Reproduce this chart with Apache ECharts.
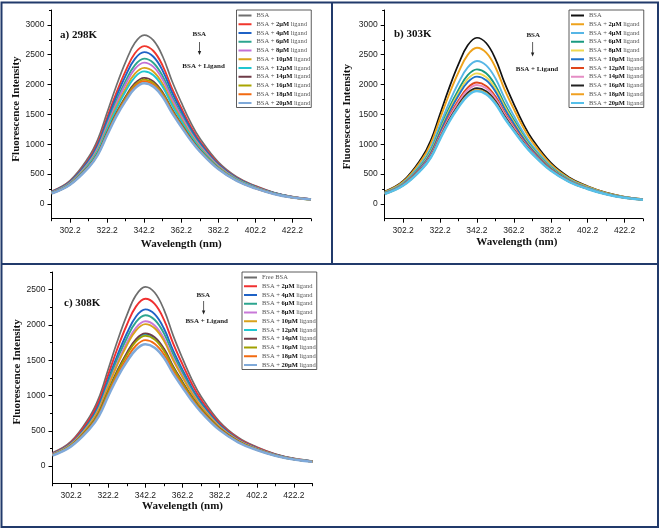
<!DOCTYPE html>
<html>
<head>
<meta charset="utf-8">
<script src="https://cdn.jsdelivr.net/npm/echarts@6/dist/echarts.min.js"></script>
<style>
html,body{margin:0;padding:0;background:#fff;}
#chart{width:661px;height:530px;}
</style>
</head>
<body>
<div id="chart"></div>
<script>
// ---------------- DATA ----------------
const wavelength = [292.2, 302.2, 312.2, 317.2, 322.2, 327.2, 332.2, 337.2, 342.2, 347.2, 352.2, 357.2, 362.2, 367.2, 372.2, 382.2, 392.2, 402.2, 412.2, 422.2, 432.2];

const xTickLabels = [302.2, 322.2, 342.2, 362.2, 382.2, 402.2, 422.2];
const xMinorTicks = [292.2, 312.2, 332.2, 352.2, 372.2, 392.2, 412.2, 432.2];
const yTickLabelsAB = [0, 500, 1000, 1500, 2000, 2500, 3000];
const yMinorTicksAB = [250, 750, 1250, 1750, 2250, 2750, 3250];
const yTickLabelsC = [0, 500, 1000, 1500, 2000, 2500];
const yMinorTicksC = [250, 750, 1250, 1750, 2250, 2750];

const names298 = ['BSA', 'BSA + 2μM ligand', 'BSA + 4μM ligand', 'BSA + 6μM ligand', 'BSA + 8μM ligand', 'BSA + 10μM ligand', 'BSA + 12μM ligand', 'BSA + 14μM ligand', 'BSA + 16μM ligand', 'BSA + 18μM ligand', 'BSA + 20μM ligand'];
const names303 = ['BSA', 'BSA + 2μM ligand', 'BSA + 4μM ligand', 'BSA + 6μM ligand', 'BSA + 8μM ligand', 'BSA + 10μM ligand', 'BSA + 12μM ligand', 'BSA + 14μM ligand', 'BSA + 16μM ligand', 'BSA + 18μM ligand', 'BSA + 20μM ligand'];
const names308 = ['Free BSA', 'BSA + 2μM ligand', 'BSA + 4μM ligand', 'BSA + 6μM ligand', 'BSA + 8μM ligand', 'BSA + 10μM ligand', 'BSA + 12μM ligand', 'BSA + 14μM ligand', 'BSA + 16μM ligand', 'BSA + 18μM ligand', 'BSA + 20μM ligand'];

const intensity298 = [
  [210,390,780,1080,1530,1980,2380,2700,2830,2740,2470,2060,1700,1370,1100,700,450,300,190,120,80],
  [201,374,741,1021,1443,1861,2230,2525,2645,2562,2314,1936,1607,1302,1049,673,435,290,184,117,78],
  [197,365,719,988,1395,1798,2149,2430,2543,2466,2230,1870,1556,1263,1022,658,426,285,181,114,76],
  [192,356,697,954,1345,1729,2061,2327,2435,2362,2139,1798,1501,1223,992,643,417,280,178,112,75],
  [188,350,682,932,1313,1685,2006,2263,2368,2296,2082,1753,1467,1197,975,633,412,276,176,111,74],
  [184,342,663,904,1271,1630,1935,2182,2280,2214,2008,1695,1423,1165,950,620,405,272,173,110,73],
  [181,337,651,885,1244,1592,1887,2125,2220,2156,1959,1656,1392,1143,934,611,400,268,172,108,72],
  [176,328,628,850,1192,1523,1799,2022,2112,2052,1867,1584,1338,1103,904,595,391,263,168,106,71],
  [175,325,621,840,1178,1503,1776,1993,2082,2022,1843,1564,1323,1091,897,591,388,261,167,106,70],
  [174,323,615,832,1166,1487,1754,1968,2055,1997,1820,1547,1309,1081,889,587,386,260,167,105,70],
  [172,320,608,821,1149,1465,1726,1936,2020,1965,1791,1524,1292,1069,880,582,383,258,165,105,70]
];
const intensity303 = [
  [207,384,768,1063,1506,1948,2342,2657,2785,2696,2431,2027,1673,1348,1082,689,443,295,187,118,79],
  [199,369,733,1009,1428,1841,2206,2498,2617,2534,2290,1916,1588,1286,1037,664,429,286,182,115,77],
  [189,350,685,938,1322,1701,2028,2288,2395,2321,2105,1770,1476,1202,976,632,411,275,175,111,74],
  [182,338,655,893,1256,1611,1913,2157,2255,2189,1986,1676,1405,1150,938,612,399,268,171,108,72],
  [179,332,641,872,1224,1568,1860,2094,2188,2124,1930,1632,1372,1126,920,602,394,264,169,107,71],
  [177,328,630,854,1199,1533,1815,2041,2133,2071,1884,1595,1343,1105,905,594,389,261,167,106,71],
  [172,319,608,822,1152,1469,1735,1948,2033,1976,1801,1528,1293,1068,877,579,381,256,164,104,69],
  [170,315,600,809,1133,1443,1703,1908,1992,1936,1767,1502,1273,1053,867,573,377,254,163,103,69],
  [167,310,588,792,1107,1408,1658,1857,1938,1885,1721,1466,1246,1033,852,566,373,251,161,102,68],
  [166,308,582,782,1095,1391,1635,1831,1910,1858,1697,1447,1231,1022,844,562,371,250,161,101,68],
  [165,306,578,776,1084,1379,1618,1812,1890,1839,1680,1435,1221,1015,839,558,369,249,160,101,68]
];
const intensity308 = [
  [188,350,700,969,1373,1777,2136,2423,2540,2459,2217,1849,1526,1230,987,628,404,269,171,108,72],
  [180,335,664,915,1293,1669,1999,2263,2370,2297,2075,1736,1441,1166,941,604,390,260,166,105,70],
  [173,322,632,866,1222,1573,1878,2120,2220,2152,1949,1636,1364,1111,900,582,377,252,161,102,68],
  [169,315,615,840,1184,1521,1811,2043,2137,2073,1880,1583,1323,1080,877,569,370,248,159,100,67],
  [165,308,596,813,1144,1466,1743,1963,2052,1992,1809,1525,1280,1048,855,557,364,244,156,99,66],
  [163,304,588,799,1124,1441,1709,1924,2012,1952,1774,1500,1259,1033,843,551,360,242,155,98,65],
  [156,291,556,752,1054,1345,1589,1783,1862,1810,1649,1400,1184,977,802,529,348,234,150,95,63],
  [157,293,560,758,1063,1358,1604,1800,1880,1827,1665,1413,1193,984,807,532,349,235,151,95,64],
  [156,290,552,746,1046,1335,1574,1766,1845,1793,1634,1389,1175,970,797,527,347,233,150,95,63],
  [153,285,540,727,1017,1295,1525,1708,1784,1734,1583,1348,1145,948,782,517,341,230,148,94,62],
  [150,279,527,707,990,1258,1478,1652,1725,1677,1534,1309,1114,926,765,509,337,227,146,92,62]
];

// ---------------- STYLE ----------------
const colors298 = ['#6f6f6f','#f0362c','#1f62c6','#2ca58f','#c270d6','#d9a21c','#20c6d0','#6e3b47','#a9a500','#f26a10','#7fa9d9'];
const colors303 = ['#111111','#eea21b','#56b6e6','#1a9a80','#efd74e','#1e72c8','#e0461c','#e58dc4','#222222','#f0a020','#56c0ea'];
const colors308 = ['#6d6d6d','#f03030','#1f62c6','#2ca58f','#c878d8','#d9a21c','#20c6d0','#6e3b47','#a0a000','#f26a10','#7fa9d9'];

const NAVY = '#213a6b';
const panels = [
  {key:'a', names:names298, data:intensity298, colors:colors298, grid:{left:51.5, top:10, width:259.5, height:208.7}, ymin:-250, ymax:3250, yTicks:yTickLabelsAB, yMinor:yMinorTicksAB,
   yGap:29, yPad:[0,0,0,10.6], xGap:19.8, xPad:[0,0,0,0], legend:{left:236.5, top:10}},
  {key:'b', names:names303, data:intensity303, colors:colors303, grid:{left:384.7, top:10, width:258.3, height:208.7}, ymin:-250, ymax:3250, yTicks:yTickLabelsAB, yMinor:yMinorTicksAB,
   yGap:32, yPad:[0,4.6,0,0], xGap:17.5, xPad:[0,0,0,6], legend:{left:569, top:10}},
  {key:'c', names:names308, data:intensity308, colors:colors308, grid:{left:52.5, top:272, width:260, height:211.7}, ymin:-250, ymax:2750, yTicks:yTickLabelsC, yMinor:yMinorTicksC,
   yGap:27.7, yPad:[0,0,0,12], xGap:15.1, xPad:[0,0,0,0], legend:{left:242, top:272}}
];

const labelFont = {fontFamily:'Liberation Sans', fontSize:8.5, color:'#222'};
const nameFont = {fontFamily:'Liberation Serif', fontWeight:'bold', fontSize:11, color:'#111'};

function legendFormatter(name){
  const n = name.split('@')[0];
  const m = n.match(/^(.*\+ )(\d+μM)( ligand)$/);
  if (m) return '{n|' + m[1] + '}{b|' + m[2] + '}{n|' + m[3] + '}';
  return '{n|' + n + '}';
}

const grids = [], xAxes = [], yAxes = [], legends = [], series = [];
panels.forEach((p, pi) => {
  grids.push(Object.assign({containLabel:false}, p.grid));
  xAxes.push({
    type:'value', gridIndex:pi, position:'bottom', min:292.2, max:432.2,
    axisLine:{show:true, onZero:false, lineStyle:{color:'#000', width:1}},
    axisTick:{show:true, length:4, customValues:xTickLabels, lineStyle:{color:'#000', width:1}},
    axisLabel:{show:true, customValues:xTickLabels, margin:7, formatter:v=>Number(v).toFixed(1), ...labelFont},
    splitLine:{show:false},
    name:'Wavelength (nm)', nameLocation:'middle', nameGap:p.xGap,
    nameTextStyle:Object.assign({padding:p.xPad}, nameFont)
  });
  xAxes.push({
    type:'value', gridIndex:pi, position:'bottom', min:292.2, max:432.2,
    axisLine:{show:false, onZero:false},
    axisTick:{show:true, length:2.5, customValues:xMinorTicks, lineStyle:{color:'#000', width:1}},
    axisLabel:{show:false}, splitLine:{show:false}
  });
  yAxes.push({
    type:'value', gridIndex:pi, position:'left', min:p.ymin, max:p.ymax,
    axisLine:{show:true, onZero:false, lineStyle:{color:'#000', width:1}},
    axisTick:{show:true, length:4, customValues:p.yTicks, lineStyle:{color:'#000', width:1}},
    axisLabel:{show:true, customValues:p.yTicks, margin:7, formatter:v=>String(Math.round(v)), ...labelFont},
    splitLine:{show:false},
    name:'Fluorescence Intensity', nameLocation:'middle', nameGap:p.yGap, nameRotate:90,
    nameTextStyle:Object.assign({padding:p.yPad}, nameFont)
  });
  yAxes.push({
    type:'value', gridIndex:pi, position:'left', min:p.ymin, max:p.ymax,
    axisLine:{show:false, onZero:false},
    axisTick:{show:true, length:2.5, customValues:p.yMinor, lineStyle:{color:'#000', width:1}},
    axisLabel:{show:false}, splitLine:{show:false}
  });
  const legendNames = p.names.map(n => n + '@' + p.key);
  legends.push({
    orient:'vertical', left:p.legend.left, top:p.legend.top,
    icon:'rect', itemWidth:13, itemHeight:2, itemGap:1.75, padding:[2,1,1,2],
    borderColor:'#333', borderWidth:0.8, backgroundColor:'#fff',
    selectedMode:false, data:legendNames, formatter:legendFormatter,
    textStyle:{fontFamily:'Liberation Serif', fontSize:6.5, lineHeight:7, color:'#555',
      rich:{
        n:{fontFamily:'Liberation Serif', fontSize:6.5, lineHeight:7, color:'#555'},
        b:{fontFamily:'Liberation Serif', fontSize:6.5, lineHeight:7, fontWeight:'bold', color:'#111'}
      }}
  });
  p.data.forEach((vals, si) => {
    series.push({
      type:'line', name:legendNames[si], xAxisIndex:2*pi, yAxisIndex:2*pi,
      data: wavelength.map((w, i) => [w, vals[i]]),
      smooth:0.4, symbol:'none', showSymbol:false, clip:true,
      lineStyle:{color:p.colors[si], width: si === 10 ? 2.5 : (si === 0 ? 1.7 : 1.9)},
      itemStyle:{color:p.colors[si]},
      emphasis:{disabled:true}
    });
  });
});

function annotation(xTop, yTop, xArrow, y1, y2, xBottom, yBottom){
  return [
    {type:'text', x:xTop, y:yTop, style:{text:'BSA', font:'bold 7px "Liberation Serif"', fill:'#222', align:'center', verticalAlign:'middle'}},
    {type:'line', shape:{x1:xArrow, y1:y1, x2:xArrow, y2:y2-3}, style:{stroke:'#333', lineWidth:0.8}},
    {type:'polygon', shape:{points:[[xArrow-1.7, y2-4], [xArrow+1.7, y2-4], [xArrow, y2]]}, style:{fill:'#222'}},
    {type:'text', x:xBottom, y:yBottom, style:{text:'BSA + Ligand', font:'bold 7px "Liberation Serif"', fill:'#222', align:'center', verticalAlign:'middle'}}
  ];
}

const graphic = [
  {type:'rect', shape:{x:1.5, y:2.5, width:656.5, height:524.5}, style:{fill:'none', stroke:NAVY, lineWidth:2}, z:10},
  {type:'line', shape:{x1:332, y1:2.5, x2:332, y2:264}, style:{stroke:NAVY, lineWidth:2}, z:10},
  {type:'line', shape:{x1:1.5, y1:264, x2:658, y2:264}, style:{stroke:NAVY, lineWidth:2}, z:10},
  {type:'text', x:60, y:35, style:{text:'a) 298K', font:'bold 11px "Liberation Serif"', fill:'#111', verticalAlign:'middle'}},
  {type:'text', x:394, y:34, style:{text:'b) 303K', font:'bold 11px "Liberation Serif"', fill:'#111', verticalAlign:'middle'}},
  {type:'text', x:64, y:303, style:{text:'c) 308K', font:'bold 11px "Liberation Serif"', fill:'#111', verticalAlign:'middle'}},
  ...annotation(199.3, 34.5, 199.5, 42, 55, 203.6, 66.2),
  ...annotation(533.2, 34.8, 532.6, 42, 56.5, 537, 69.2),
  ...annotation(203.2, 295.3, 203.6, 301, 314.5, 206.7, 320.7)
];

const chart = echarts.init(document.getElementById('chart'), null, {renderer:'canvas'});
chart.setOption({
  animation:false,
  backgroundColor:'#fff',
  grid:grids, xAxis:xAxes, yAxis:yAxes, legend:legends, series:series, graphic:graphic
});
</script>
</body>
</html>
